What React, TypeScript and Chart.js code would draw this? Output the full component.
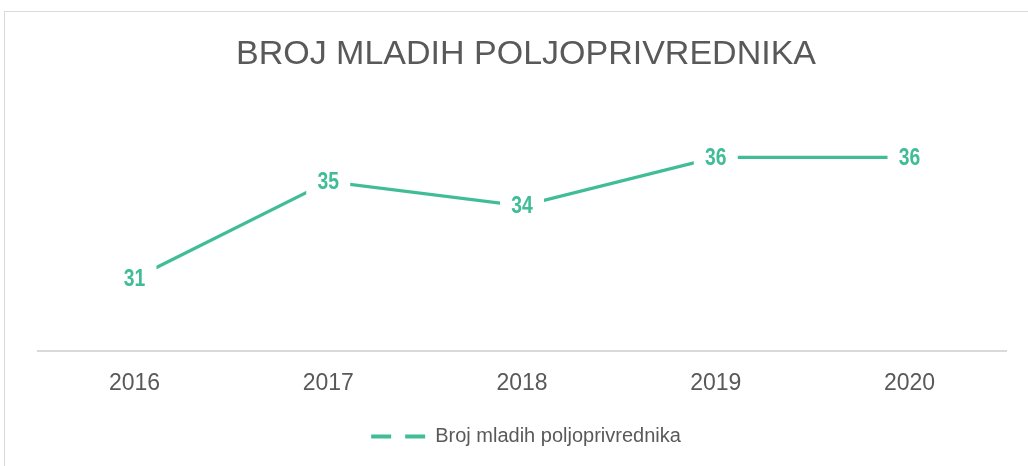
import React, { useEffect, useRef } from "react";
import { Chart, registerables } from "chart.js";

Chart.register(...registerables);

const years = ["2016", "2017", "2018", "2019", "2020"];
const values = [31, 35, 34, 36, 36];
const seriesLabel = "Broj mladih poljoprivrednika";
const chartTitle = "BROJ MLADIH POLJOPRIVREDNIKA";
const yMin = 28;
const yMax = 38;

const GREEN = "#40BD96";
const GRAY_TEXT = "#595959";
const FONT = "'Liberation Sans Narrow', 'Arial Narrow', 'Liberation Sans', Arial, sans-serif";

const valueLabelPlugin = {
  id: "valueLabels",
  afterDatasetsDraw(chart: any) {
    const ctx = chart.ctx;
    const meta = chart.getDatasetMeta(0);
    const data = chart.data.datasets[0].data;
    meta.data.forEach((pt: any, i: number) => {
      ctx.save();
      ctx.fillStyle = "#ffffff";
      ctx.fillRect(pt.x - 22, pt.y - 13, 44, 26);
      ctx.translate(pt.x, pt.y + 1);
      ctx.scale(0.84, 1);
      ctx.font = `bold 23px ${FONT}`;
      ctx.textAlign = "center";
      ctx.textBaseline = "middle";
      ctx.fillStyle = GREEN;
      ctx.fillText(String(data[i]), 0, 0);
      ctx.restore();
    });
  },
};

export default function App() {
  const canvasRef = useRef<HTMLCanvasElement | null>(null);

  useEffect(() => {
    if (!canvasRef.current) return;
    const chart = new Chart(canvasRef.current, {
      type: "line",
      data: {
        labels: years,
        datasets: [
          {
            label: seriesLabel,
            data: values,
            borderColor: GREEN,
            backgroundColor: GREEN,
            borderWidth: 3.3,
            pointRadius: 0,
            tension: 0,
            yAxisID: "y",
          },
        ],
      },
      options: {
        responsive: false,
        animation: false,
        devicePixelRatio: 1,
        layout: { padding: { top: 33.8, left: 37.6, right: 13.6, bottom: 9.5 } },
        plugins: {
          title: {
            display: true,
            text: chartTitle,
            color: GRAY_TEXT,
            font: { family: FONT, size: 34, weight: "normal", lineHeight: 1.2 },
            padding: { top: 0, bottom: 34.4 },
          },
          legend: {
            position: "bottom",
            labels: {
              usePointStyle: true,
              pointStyleWidth: 54,
              padding: 12,
              color: GRAY_TEXT,
              font: { family: FONT, size: 20 },
              generateLabels: () => [
                {
                  text: seriesLabel,
                  pointStyle: "line",
                  strokeStyle: GREEN,
                  fillStyle: GREEN,
                  lineWidth: 4,
                  lineDash: [20, 14],
                  datasetIndex: 0,
                  hidden: false,
                  fontColor: GRAY_TEXT,
                },
              ],
            },
          },
          tooltip: { enabled: false },
        },
        scales: {
          x: {
            offset: true,
            grid: { display: false, drawTicks: false, tickLength: 0, offset: true },
            border: { display: true, color: "#d9d9d9", width: 2 },
            ticks: {
              color: GRAY_TEXT,
              padding: 18.9,
              font: { family: FONT, size: 23, lineHeight: 1.2 },
            },
            afterFit: (s: any) => {
              s.height = 63.5;
            },
          },
          y: {
            position: "right",
            min: yMin,
            max: yMax,
            grid: { display: false },
            border: { display: false },
            ticks: { display: false },
            afterFit: (s: any) => {
              s.width = 8;
            },
          },
        },
      } as any,
      plugins: [valueLabelPlugin],
    });
    return () => chart.destroy();
  }, []);

  return (
    <div
      style={{
        position: "fixed",
        left: 0,
        top: 0,
        width: 1028,
        height: 466,
        overflow: "hidden",
        background: "#ffffff",
      }}
    >
      <div
        style={{
          position: "absolute",
          left: 4,
          top: 11,
          width: 1100,
          height: 500,
          border: "1px solid #d9d9d9",
        }}
      />
      <canvas
        ref={canvasRef}
        width={1028}
        height={466}
        style={{ position: "absolute", left: 0, top: 0, width: 1028, height: 466 }}
      />
    </div>
  );
}
